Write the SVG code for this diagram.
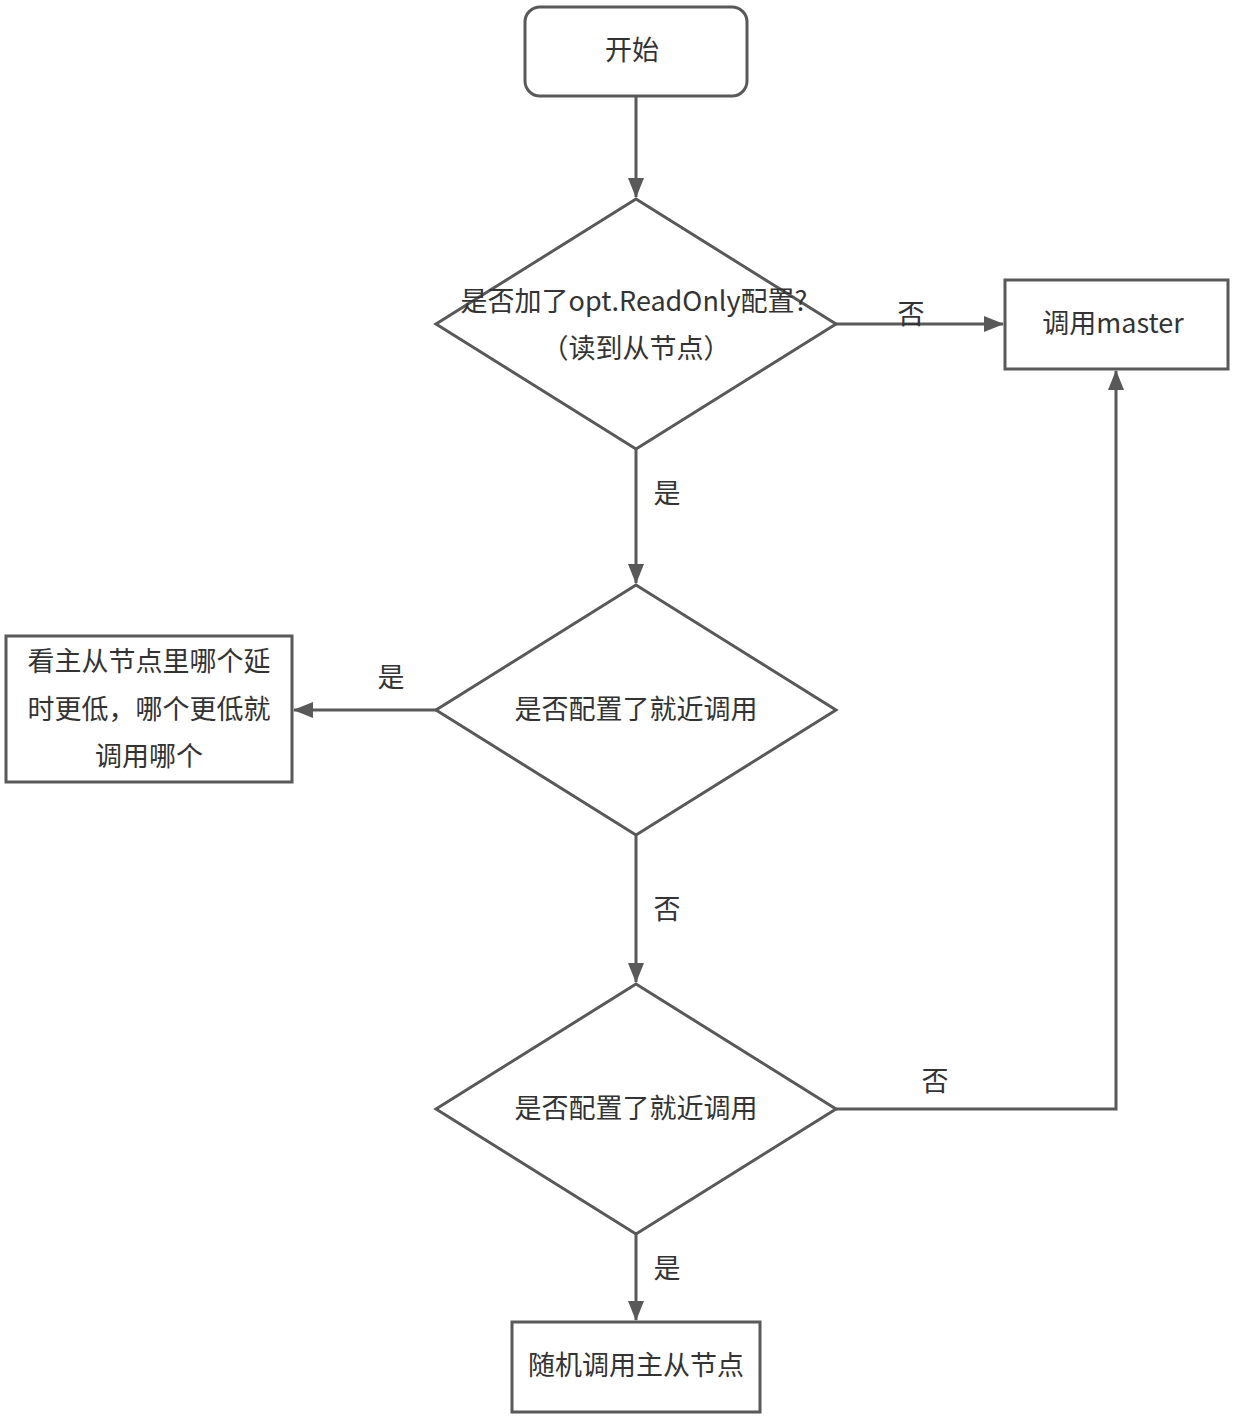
<svg xmlns="http://www.w3.org/2000/svg" width="1238" height="1418" viewBox="0 0 1238 1418">
<style>
.shape{fill:#fff;stroke:#595959;stroke-width:3}
.line{fill:none;stroke:#595959;stroke-width:3}
text{font-family:"Noto Sans CJK SC","Noto Sans",sans-serif;font-size:27px;fill:#333;text-anchor:middle;dominant-baseline:central}
</style>
<defs>
<marker id="arr" viewBox="0 0 20 16" refX="19" refY="8" markerWidth="20" markerHeight="16" markerUnits="userSpaceOnUse" orient="auto">
<path d="M0,0 L20,8 L0,16 Z" fill="#595959"/>
</marker>
</defs>
<rect width="1238" height="1418" fill="#fff"/>
<g id="connectors">
<line class="line" x1="636" y1="96" x2="636" y2="197" marker-end="url(#arr)"/>
<line class="line" x1="836" y1="324" x2="1003" y2="324" marker-end="url(#arr)"/>
<line class="line" x1="636" y1="449" x2="636" y2="583" marker-end="url(#arr)"/>
<line class="line" x1="436" y1="710" x2="294" y2="710" marker-end="url(#arr)"/>
<line class="line" x1="636" y1="835" x2="636" y2="982" marker-end="url(#arr)"/>
<polyline class="line" points="836,1109 1116,1109 1116,371" marker-end="url(#arr)"/>
<line class="line" x1="636" y1="1234" x2="636" y2="1320" marker-end="url(#arr)"/>
<text x="911" y="312">否</text>
<text x="667" y="491">是</text>
<text x="391" y="675">是</text>
<text x="667" y="907">否</text>
<text x="935" y="1079">否</text>
<text x="667" y="1266">是</text>
</g>
<g id="start">
<rect class="shape" x="525" y="7" width="222" height="89" rx="15"/>
<text x="632" y="48">开始</text>
</g>
<g id="decision1">
<polygon class="shape" points="636,199 836,324 636,449 436,324"/>
<text x="634" y="299">是否加了opt.ReadOnly配置?</text>
<text x="636" y="346">（读到从节点）</text>
</g>
<g id="master">
<rect class="shape" x="1005" y="280" width="223" height="89"/>
<text x="1113" y="321">调用master</text>
</g>
<g id="decision2">
<polygon class="shape" points="636,585 836,710 636,835 436,710"/>
<text x="636" y="707">是否配置了就近调用</text>
</g>
<g id="lowlatency">
<rect class="shape" x="6" y="636" width="286" height="146"/>
<text x="149" y="659">看主从节点里哪个延</text>
<text x="149" y="707">时更低，哪个更低就</text>
<text x="149" y="754">调用哪个</text>
</g>
<g id="decision3">
<polygon class="shape" points="636,984 836,1109 636,1234 436,1109"/>
<text x="636" y="1106">是否配置了就近调用</text>
</g>
<g id="random">
<rect class="shape" x="512" y="1322" width="248" height="90"/>
<text x="636" y="1363">随机调用主从节点</text>
</g>
</svg>
